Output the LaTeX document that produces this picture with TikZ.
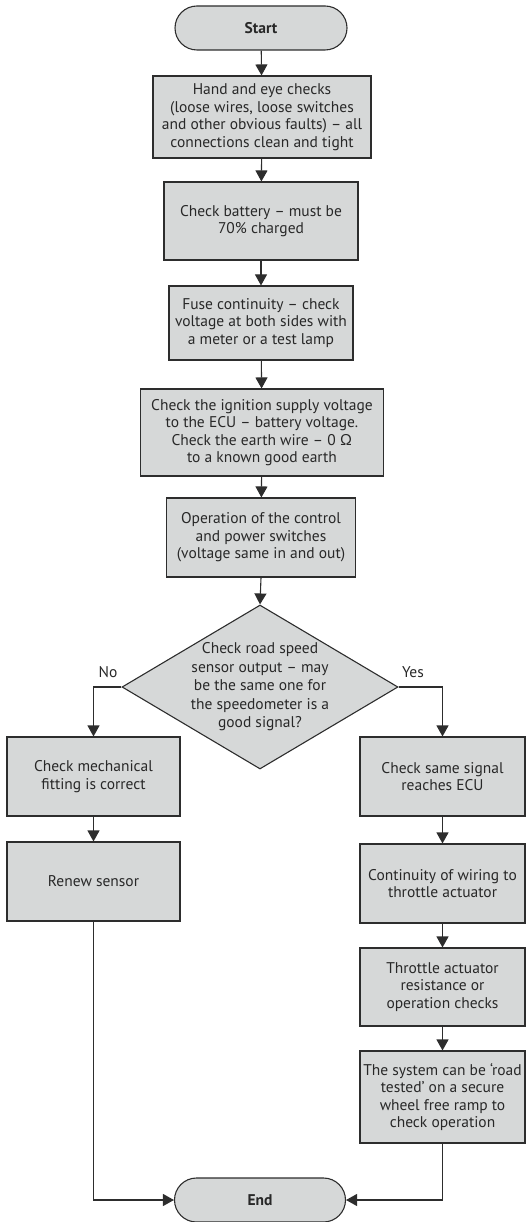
\documentclass[tikz,border=0pt]{standalone}
\usepackage{fontspec}
\setmainfont{PT Sans}
\usetikzlibrary{arrows.meta,shapes.geometric}
\definecolor{boxfill}{RGB}{214,216,216}
\definecolor{edge}{RGB}{45,45,45}
\definecolor{ink}{RGB}{40,40,40}
\tikzset{
  base/.style={draw=edge, fill=boxfill, line width=1.1pt, text=ink, align=center,
    font=\fontsize{15.5}{17.5}\selectfont, inner sep=2pt},
  stepbox/.style={base, rectangle},
  term/.style={base, rectangle, rounded corners=22pt, minimum width=172pt, minimum height=44pt,
    font=\fontsize{15.5}{17.5}\selectfont\bfseries},
  decision/.style={base, diamond, minimum width=276pt, minimum height=164pt, inner sep=0pt},
  conn/.style={draw=edge, line width=1.1pt, -{Triangle[length=11pt,width=12pt]}},
  lbl/.style={text=ink, align=center, font=\fontsize{15.5}{18.5}\selectfont}
}
\begin{document}
\begin{tikzpicture}[x=1pt,y=-1pt]
\useasboundingbox (0,0) rectangle (528,1222);
\node[term] (start) at (261,28) {Start};
\node[stepbox, minimum width=218pt, minimum height=82pt] (b1) at (262,117)
  {Hand and eye checks\\(loose wires, loose switches\\and other obvious faults) -- all\\connections clean and tight};
\node[stepbox, minimum width=194pt, minimum height=78pt] (b2) at (261,221)
  {Check battery -- must be\\70\% charged};
\node[stepbox, minimum width=184pt, minimum height=74pt] (b3) at (261,323)
  {Fuse continuity -- check\\voltage at both sides with\\a meter or a test lamp};
\node[stepbox, minimum width=243pt, minimum height=87pt] (b4) at (262,432.5)
  {Check the ignition supply voltage\\to the ECU -- battery voltage.\\Check the earth wire -- 0 Ω\\to a known good earth};
\node[stepbox, minimum width=189pt, minimum height=79pt] (b5) at (261,537.5)
  {Operation of the control\\and power switches\\(voltage same in and out)};
\node[decision] (d) at (260,687) {};
\node[lbl] (dtext) at (d.center)
  {Check road speed\\sensor output -- may\\be the same one for\\the speedometer is a\\good signal?};
\node[stepbox, minimum width=173pt, minimum height=79pt] (mech) at (93.5,776.5)
  {Check mechanical\\fitting is correct};
\node[stepbox, minimum width=173pt, minimum height=79pt] (renew) at (93.5,881.5)
  {Renew sensor};
\node[stepbox, minimum width=165pt, minimum height=79pt] (sig) at (442.5,776.5)
  {Check same signal\\reaches ECU};
\node[stepbox, minimum width=165pt, minimum height=79pt] (cont) at (442.5,883.5)
  {Continuity of wiring to\\throttle actuator};
\node[stepbox, minimum width=165pt, minimum height=78pt] (thr) at (442.5,987)
  {Throttle actuator\\resistance or\\operation checks};
\node[stepbox, minimum width=165pt, minimum height=92pt] (sys) at (442.5,1097)
  {The system can be `road\\tested' on a secure\\wheel free ramp to\\check operation};
\node[term, minimum width=171pt] (end) at (260,1200) {End};
\node[lbl] (no) at (108,672) {No};
\node[lbl] (yes) at (413,672) {Yes};
\coordinate (lc) at (93.5,1200);
\coordinate (rc) at (442.5,1200);
\draw[conn] (start) -- (b1);
\draw[conn] (b1) -- (b2);
\draw[conn] (b2) -- (b3);
\draw[conn] (b3) -- (b4);
\draw[conn] (b4) -- (b5);
\draw[conn] (b5.south) -- (d.north);
\draw[conn] (d.west) -| (mech.north);
\draw[conn] (d.east) -| (sig.north);
\draw[conn] (mech) -- (renew);
\draw[conn] (sig) -- (cont);
\draw[conn] (cont) -- (thr);
\draw[conn] (thr) -- (sys);
\draw[conn] (renew.south) -- (lc) -- (end.west);
\draw[conn] (sys.south) -- (rc) -- (end.east);
\end{tikzpicture}
\end{document}
